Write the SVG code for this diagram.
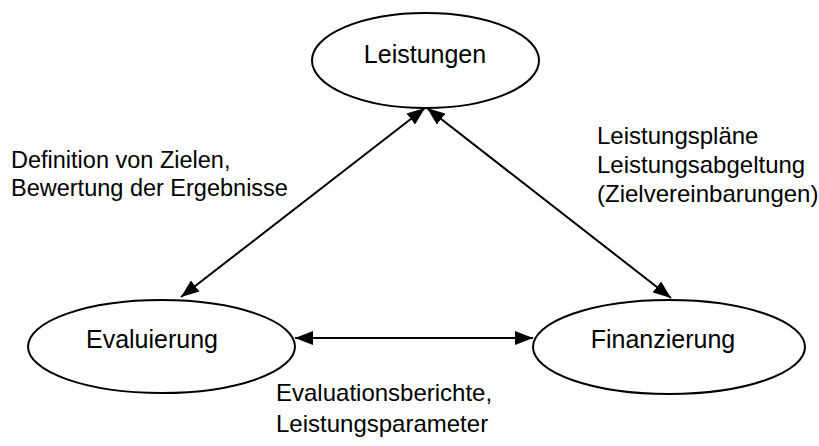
<svg xmlns="http://www.w3.org/2000/svg" width="819" height="446" viewBox="0 0 819 446">
<defs>
<marker id="ah" viewBox="0 0 18 14" refX="18" refY="7" markerWidth="18" markerHeight="14" markerUnits="userSpaceOnUse" orient="auto-start-reverse">
<path d="M0,0 L18,7 L0,14 Z" fill="#000"/>
</marker>
<style>
.node{fill:#fff;stroke:#000;stroke-width:2}
.nt{font-family:"Liberation Sans",Arial,sans-serif;font-size:25px;fill:#000;text-anchor:middle}
.lb{font-family:"Liberation Sans",Arial,sans-serif;font-size:24px;fill:#000}
.lbs{font-size:23.5px}
.cn{stroke:#000;stroke-width:2;fill:none;marker-start:url(#ah);marker-end:url(#ah)}
</style>
</defs>
<rect width="819" height="446" fill="#fff"/>
<g id="connectors">
<line class="cn" x1="425" y1="108" x2="181" y2="297"/>
<line class="cn" x1="427" y1="108" x2="671" y2="298"/>
<line class="cn" x1="295" y1="338" x2="533" y2="338"/>
</g>
<g id="leistungen">
<ellipse class="node" cx="425.5" cy="60.5" rx="113.5" ry="47.5"/>
<text class="nt" x="425" y="63">Leistungen</text>
</g>
<g id="evaluierung">
<ellipse class="node" cx="161.5" cy="346.5" rx="133.5" ry="46.5"/>
<text class="nt" x="152" y="348">Evaluierung</text>
</g>
<g id="finanzierung">
<ellipse class="node" cx="669" cy="347" rx="136" ry="47"/>
<text class="nt" x="663" y="348">Finanzierung</text>
</g>
<g id="label-left">
<text class="lb lbs" x="11" y="168">Definition von Zielen,</text>
<text class="lb lbs" x="11" y="196">Bewertung der Ergebnisse</text>
</g>
<g id="label-right">
<text class="lb" x="597" y="144">Leistungspläne</text>
<text class="lb" x="597" y="173">Leistungsabgeltung</text>
<text class="lb" x="597" y="202">(Zielvereinbarungen)</text>
</g>
<g id="label-bottom">
<text class="lb" x="276" y="401">Evaluationsberichte,</text>
<text class="lb" x="276" y="432">Leistungsparameter</text>
</g>
</svg>
